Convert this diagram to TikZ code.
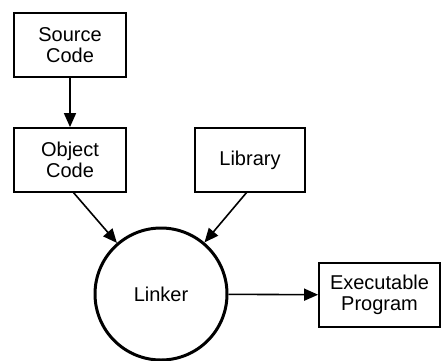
\documentclass[tikz,border=0pt]{standalone}
\usepackage{fontspec}
\setmainfont{Liberation Sans}
\usetikzlibrary{arrows.meta}
\tikzset{
  box/.style={draw, line width=1.8pt, minimum width=112pt, minimum height=64pt, inner sep=0pt,
    align=center, font=\fontsize{20}{20.5}\selectfont},
  circ/.style={draw, circle, line width=3pt, minimum size=132pt, inner sep=0pt,
    font=\fontsize{20}{20.5}\selectfont},
  arr/.style={line width=1.6pt, -{Triangle[length=14pt,width=12pt]}}
}
\begin{document}
\begin{tikzpicture}[x=1pt,y=-1pt]
\useasboundingbox (0,0) rectangle (444,360);
\node[box] (src) at (70,45) {Source\\Code};
\node[box] (obj) at (70,160) {Object\\Code};
\node[box, minimum width=110pt] (lib) at (250,160) {Library};
\node[circ] (linker) at (161,294) {Linker};
\node[box, minimum width=121pt] (exe) at (379.5,295) {Executable\\Program};
\coordinate (objout) at (73,192);
\coordinate (libout) at (247,192);
\draw[arr] (src) -- (obj);
\draw[arr] (objout) -- (linker);
\draw[arr] (libout) -- (linker);
\draw[arr] (linker) -- (exe);
\end{tikzpicture}
\end{document}
